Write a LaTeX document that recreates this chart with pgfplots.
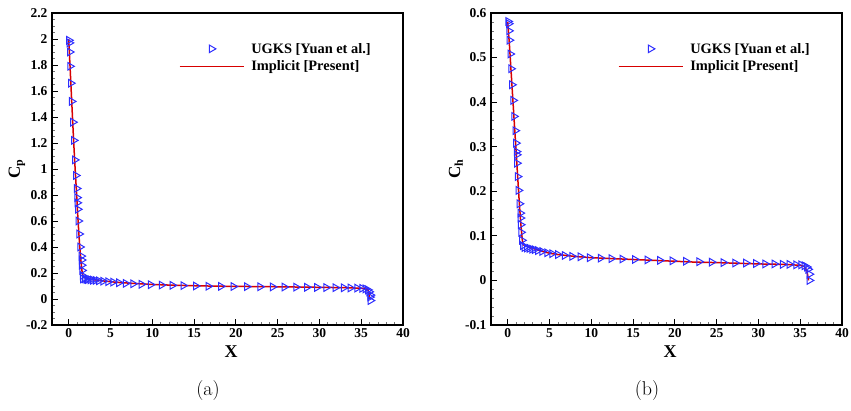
\documentclass[border=0pt]{standalone}
\usepackage{pgfplots}
\pgfplotsset{compat=1.18}
\usepackage{fontspec}
\newfontfamily\tnr{Liberation Serif}
\definecolor{mkblue}{RGB}{45,45,255}
\definecolor{lnred}{RGB}{215,0,0}
\newcommand\tickfont{\tnr\bfseries\fontsize{13.5}{15}\selectfont}
\pgfplotsset{
  tecstyle/.style={
    scale only axis, width=351pt, height=312pt,
    xmin=-2, xmax=40, xtick={0,5,...,40}, minor x tick num=4,
    tick align=inside, xtick pos=lower, ytick pos=left,
    major tick length=6pt, minor tick length=3pt,
    every major tick/.style={black, line width=0.9pt},
    every minor tick/.style={black!55, line width=0.6pt},
    axis line style={line width=1.1pt},
    /pgf/number format/assume math mode=true,
    xticklabel={\mbox{\tickfont\pgfmathprintnumber[assume math mode=true]{\tick}}},
    yticklabel={\mbox{\tickfont\pgfmathprintnumber[assume math mode=true]{\tick}}},
    yticklabel style={xshift=-1pt},
    every axis x label/.style={at={(axis description cs:0.51,-0.085)},anchor=center,font=\tnr\bfseries\fontsize{18}{20}\selectfont},
    every axis y label/.style={at={(axis description cs:-0.1,0.5)},anchor=center,rotate=90,font=\tnr\bfseries\fontsize{17}{19}\selectfont},
    legend style={draw=none, fill=none, at={(0.352,0.917)}, anchor=north west,
      font=\tnr\bfseries\fontsize{14.4}{16}\selectfont, cells={anchor=west},
      row sep=2pt, column sep=5pt},
    legend image code/.code={\draw[mark repeat=2,mark phase=2,##1] plot coordinates {(0pt,0pt)(32pt,0pt)(64pt,0pt)};},
    clip=false,
  },
  mk/.style={only marks, mark=triangle, mark size=4.4pt, mark options={rotate=-90, draw=mkblue, line width=1pt, fill=none}},
  ln/.style={no marks, color=lnred, line width=1.5pt},
}
\begin{document}
\begin{tikzpicture}
\useasboundingbox (0pt,0pt) rectangle (851pt,410pt);
\begin{axis}[tecstyle, at={(52pt,85pt)}, anchor=south west,
  ymin=-0.2, ymax=2.2, ytick={-0.2,0,0.2,0.4,0.6,0.8,1,1.2,1.4,1.6,1.8,2,2.2}, minor y tick num=3,
  xlabel={X}, ylabel={C\textsubscript{p}}]
\addplot[mk] coordinates {
(0.02,1.99)(0.08,1.97)(0.12,1.90)(0.15,1.79)(0.25,1.66)(0.35,1.52)(0.5,1.36)(0.6,1.22)(0.72,1.07)(0.85,0.95)(0.95,0.85)(1.0,0.78)(1.02,0.74)(1.08,0.69)(1.15,0.60)(1.25,0.50)(1.35,0.40)(1.5,0.33)(1.55,0.30)(1.55,0.26)(1.6,0.22)(1.65,0.18)(1.7,0.155)(1.9,0.155)(2.1,0.15)(2.3,0.15)(2.6,0.148)(2.9,0.145)(3.2,0.143)(3.6,0.14)(4.1,0.137)(4.7,0.133)(5.3,0.13)(6.0,0.125)(6.8,0.12)(7.7,0.117)(8.7,0.113)(9.8,0.11)(11.1,0.107)(12.4,0.105)(13.7,0.103)(15.2,0.1)(16.7,0.098)(18.2,0.097)(19.7,0.096)(21.3,0.095)(22.9,0.094)(24.4,0.093)(25.8,0.092)(27.2,0.091)(28.5,0.09)(29.7,0.089)(30.8,0.088)(31.9,0.087)(32.9,0.086)(33.7,0.085)(34.5,0.084)(35.1,0.082)(35.5,0.078)(35.8,0.07)(35.95,0.055)(36.1,0.03)(36.05,0.015)(36.1,-0.012)
};
\addlegendentry{UGKS [Yuan et al.]}
\addplot[ln] coordinates {
(0,2.0)(0.15,1.8)(0.3,1.6)(0.45,1.4)(0.6,1.2)(0.77,1.0)(0.95,0.8)(1.12,0.6)(1.3,0.42)(1.45,0.3)(1.58,0.22)(1.7,0.18)(1.85,0.165)(2.2,0.158)(3,0.148)(4,0.14)(5,0.133)(6,0.127)(8,0.119)(10,0.112)(12.5,0.106)(15,0.102)(17.5,0.099)(20,0.097)(25,0.094)(30,0.09)(33,0.087)(35,0.083)(35.5,0.078)(35.8,0.068)(35.95,0.045)(36,0.0)
};
\addlegendentry{Implicit [Present]}
\end{axis}
\begin{axis}[tecstyle, at={(491pt,85pt)}, anchor=south west,
  ymin=-0.1, ymax=0.6, ytick={-0.1,0,0.1,0.2,0.3,0.4,0.5,0.6}, minor y tick num=4,
  xlabel={X}, ylabel={C\textsubscript{h}}]
\addplot[mk] coordinates {
(0.05,0.581)(0.12,0.576)(0.15,0.56)(0.2,0.539)(0.3,0.508)(0.4,0.475)(0.5,0.439)(0.65,0.404)(0.75,0.368)(0.9,0.336)(0.98,0.308)(1.05,0.289)(1.08,0.282)(1.1,0.263)(1.18,0.233)(1.28,0.202)(1.4,0.172)(1.5,0.151)(1.52,0.14)(1.55,0.125)(1.6,0.108)(1.7,0.09)(1.8,0.078)(2.0,0.074)(2.3,0.073)(2.6,0.072)(2.9,0.07)(3.2,0.069)(3.6,0.067)(4.1,0.065)(4.7,0.062)(5.3,0.06)(6.0,0.058)(6.8,0.056)(7.7,0.054)(8.7,0.053)(9.8,0.051)(11.1,0.05)(12.4,0.049)(13.7,0.048)(15.2,0.047)(16.7,0.046)(18.2,0.045)(19.7,0.044)(21.3,0.043)(22.9,0.042)(24.4,0.041)(25.8,0.04)(27.2,0.039)(28.5,0.039)(29.7,0.038)(30.8,0.037)(31.9,0.037)(32.9,0.036)(33.7,0.036)(34.5,0.035)(35.1,0.035)(35.5,0.033)(35.8,0.03)(35.95,0.025)(36.1,0.014)(36.1,0.0)
};
\addlegendentry{UGKS [Yuan et al.]}
\addplot[ln] coordinates {
(0,0.58)(0.2,0.53)(0.4,0.47)(0.6,0.41)(0.8,0.35)(1.0,0.29)(1.2,0.23)(1.4,0.17)(1.6,0.12)(1.75,0.09)(1.85,0.08)(2.2,0.077)(3,0.072)(4,0.066)(5,0.061)(6,0.058)(8,0.054)(10,0.051)(12.5,0.049)(15,0.047)(17.5,0.045)(20,0.043)(22.5,0.041)(25,0.040)(30,0.037)(33,0.036)(35,0.034)(35.5,0.031)(35.8,0.022)(36,0.0)
};
\addlegendentry{Implicit [Present]}
\end{axis}
\node[font=\fontsize{20}{22}\selectfont] at (208pt,19pt) {(a)};
\node[font=\fontsize{20}{22}\selectfont] at (647pt,19pt) {(b)};
\end{tikzpicture}
\end{document}
